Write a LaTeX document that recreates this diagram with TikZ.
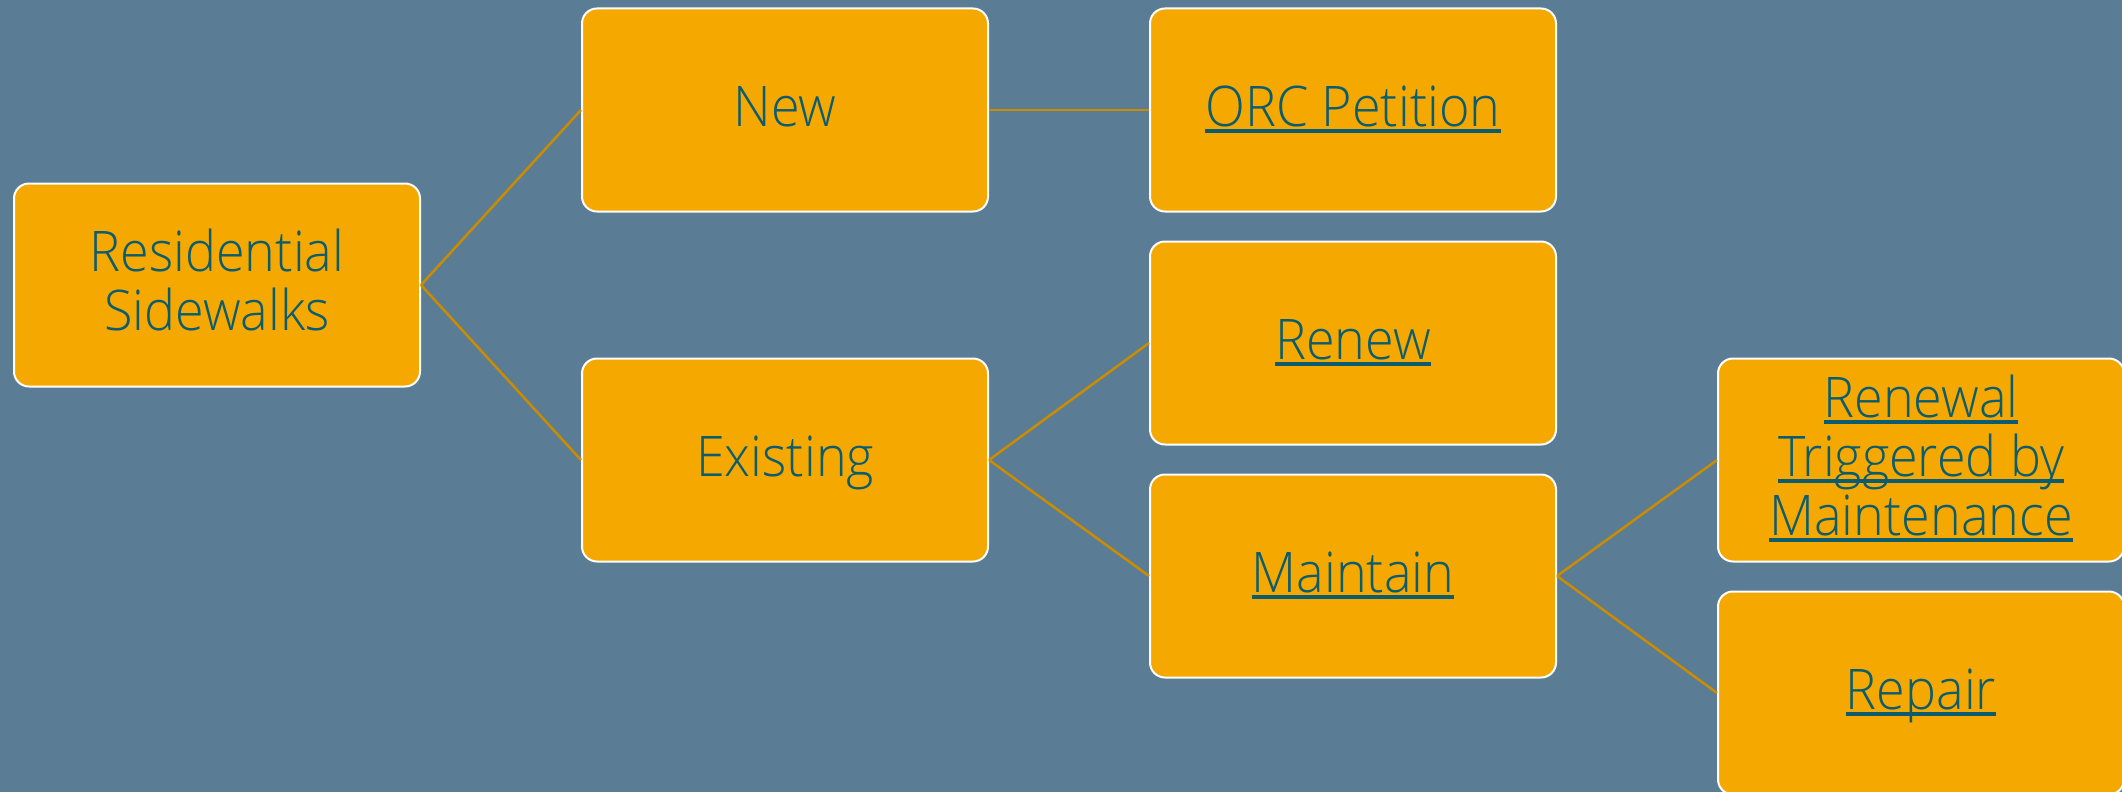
\documentclass[tikz,border=0pt]{standalone}
\usepackage{fontspec}
\setmainfont{Open Sans Light}[FakeStretch=0.93]
\definecolor{bg}{RGB}{91,124,149}
\definecolor{boxfill}{RGB}{245,168,0}
\definecolor{txt}{RGB}{10,92,110}
\definecolor{conn}{RGB}{204,140,0}
\newsavebox\ulbox
\newcommand{\tl}[1]{\raisebox{0pt}[32pt][0pt]{#1}}
\newcommand{\ulink}[1]{\tl{\sbox\ulbox{#1}\rlap{\rule[-6.6pt]{\wd\ulbox}{3.2pt}}\usebox\ulbox}}
\begin{document}
\begin{tikzpicture}[x=1pt,y=-1pt,
  box/.style={draw=white, line width=2pt, fill=boxfill, rounded corners=15pt,
    minimum width=406pt, minimum height=203pt, inner sep=0pt, align=center,
    text=txt, font=\fontsize{56}{59}\selectfont},
  link/.style={draw=conn, line width=2.5pt}]
\useasboundingbox (0,0) rectangle (2122,792);
\fill[bg] (0,0) rectangle (2122,792);
\clip (0,0) rectangle (2122,792);
\node[box] (res) at (217,285) {\tl{Residential}\\\tl{Sidewalks}};
\node[box] (new) at (785,110) {\tl{New}};
\node[box] (exist) at (785,460) {\tl{Existing}};
\node[box] (orc) at (1353,110) {\ulink{ORC Petition}};
\node[box] (renew) at (1353,343) {\ulink{Renew}};
\node[box] (maint) at (1353,576) {\ulink{Maintain}};
\node[box] (rtm) at (1921,460) {\ulink{Renewal}\\\ulink{Triggered by}\\\ulink{Maintenance}};
\node[box] (repair) at (1921,693) {\ulink{Repair}};
\draw[link] (res.east) -- (new.west);
\draw[link] (res.east) -- (exist.west);
\draw[link] (new.east) -- (orc.west);
\draw[link] (exist.east) -- (renew.west);
\draw[link] (exist.east) -- (maint.west);
\draw[link] (maint.east) -- (rtm.west);
\draw[link] (maint.east) -- (repair.west);
\end{tikzpicture}
\end{document}
